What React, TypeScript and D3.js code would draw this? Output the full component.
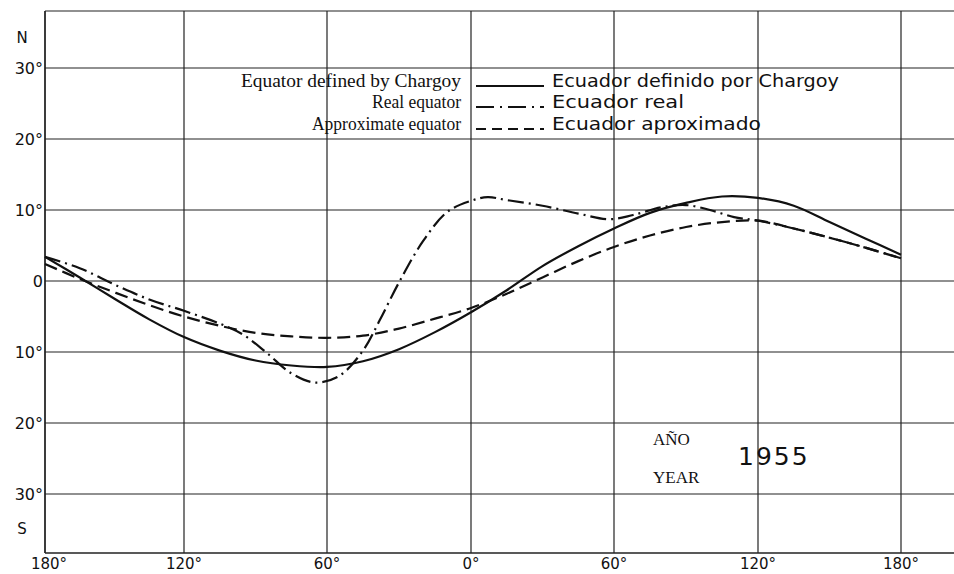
import React, { useEffect, useRef } from 'react';
import * as d3 from 'd3';

// longitude ticks (west negative) and latitude ticks (south negative)
const lonTicks = [-180, -120, -60, 0, 60, 120, 180];
const lonLabels = ['180°', '120°', '60°', '0°', '60°', '120°', '180°'];
const latTicks = [30, 20, 10, 0, -10, -20, -30];
const latLabels = ['30°', '20°', '10°', '0', '10°', '20°', '30°'];

// Ecuador definido por Chargoy
const chargoyLon = [-180, -165, -150, -135, -120, -105, -90, -75, -60, -45, -30, -15, 0, 15, 30, 45, 60, 75, 90, 105, 120, 135, 150, 165, 180];
const chargoyLat = [3.4, 0.5, -2.5, -5.4, -7.9, -9.8, -11.2, -11.9, -12.1, -11.3, -9.6, -7.2, -4.4, -1.3, 2.1, 4.9, 7.4, 9.6, 11.0, 11.9, 11.7, 10.6, 8.3, 6.0, 3.7];

// Ecuador real
const realLon = [-180, -165, -150, -135, -120, -105, -95, -85, -75, -65, -55, -45, -38, -30, -20, -10, 0, 7, 15, 30, 45, 58, 68, 80, 90, 100, 110, 120, 135, 150, 165, 180];
const realLat = [3.4, 1.8, -0.5, -2.6, -4.2, -6.0, -7.6, -10.2, -13.0, -14.3, -13.4, -9.8, -5.5, -0.2, 5.6, 9.7, 11.3, 11.8, 11.4, 10.6, 9.5, 8.7, 9.3, 10.4, 10.7, 10.0, 9.0, 8.5, 7.4, 6.1, 4.7, 3.2];

// Ecuador aproximado
const approxLon = [-180, -165, -150, -135, -120, -105, -90, -75, -60, -45, -30, -15, 0, 15, 30, 45, 60, 75, 90, 105, 120, 135, 150, 165, 180];
const approxLat = [2.4, 0.3, -1.6, -3.4, -5.0, -6.3, -7.3, -7.8, -8.0, -7.7, -6.7, -5.3, -3.8, -1.8, 0.5, 2.8, 4.8, 6.4, 7.6, 8.3, 8.5, 7.4, 6.1, 4.7, 3.2];

const legendEn = ['Equator defined by Chargoy', 'Real equator', 'Approximate equator'];
const legendEs = ['Ecuador definido por Chargoy', 'Ecuador real', 'Ecuador aproximado'];

const SANS = 'DejaVu Sans, sans-serif';
const SERIF = 'Liberation Serif, serif';

export default function App() {
  const ref = useRef<SVGSVGElement>(null);

  useEffect(() => {
    const width = 954;
    const height = 574;
    const svg = d3.select(ref.current);
    svg.selectAll('*').remove();
    svg.attr('width', width).attr('height', height);

    // the scanned grid is slightly uneven, so map each meridian to where it was drawn
    const x = d3.scaleLinear().domain(lonTicks).range([45, 184, 327, 471, 614, 758, 901]);
    const y = d3.scaleLinear().domain([-30, 30]).range([494, 68]);
    const top = 11;
    const bottom = 553;
    const left = 45;
    const right = width;

    const ink = '#111';
    const grid = svg.append('g').attr('stroke', '#222').attr('stroke-width', 1.2);

    grid
      .selectAll('line.v')
      .data(lonTicks)
      .enter()
      .append('line')
      .attr('class', 'v')
      .attr('x1', (d) => x(d))
      .attr('x2', (d) => x(d))
      .attr('y1', top)
      .attr('y2', bottom);

    grid
      .selectAll('line.h')
      .data(latTicks)
      .enter()
      .append('line')
      .attr('class', 'h')
      .attr('x1', left)
      .attr('x2', right)
      .attr('y1', (d) => y(d))
      .attr('y2', (d) => y(d));

    // frame
    grid.append('line').attr('x1', left).attr('x2', right).attr('y1', top).attr('y2', top);
    grid.append('line').attr('x1', left).attr('x2', right).attr('y1', bottom).attr('y2', bottom).attr('stroke-width', 1.6);
    grid.append('line').attr('x1', left).attr('x2', left).attr('y1', top).attr('y2', bottom).attr('stroke-width', 1.4);

    // tick labels
    svg
      .append('g')
      .selectAll('text')
      .data(latTicks)
      .enter()
      .append('text')
      .attr('x', 43)
      .attr('y', (d) => y(d) + 6)
      .attr('text-anchor', 'end')
      .attr('font-family', SANS)
      .attr('font-size', 16)
      .attr('fill', ink)
      .text((d, i) => latLabels[i]);

    svg
      .append('g')
      .selectAll('text')
      .data(lonTicks)
      .enter()
      .append('text')
      .attr('x', (d) => x(d) + (d === -180 ? 4 : 0))
      .attr('y', 569)
      .attr('text-anchor', 'middle')
      .attr('font-family', SANS)
      .attr('font-size', 15)
      .attr('fill', ink)
      .text((d, i) => lonLabels[i]);

    svg.append('text').attr('x', 22).attr('y', 43).attr('text-anchor', 'middle')
      .attr('font-family', SANS).attr('font-size', 15).attr('fill', ink).text('N');
    svg.append('text').attr('x', 22).attr('y', 534).attr('text-anchor', 'middle')
      .attr('font-family', SANS).attr('font-size', 15).attr('fill', ink).text('S');

    // curves
    const line = d3
      .line<[number, number]>()
      .x((d) => x(d[0]))
      .y((d) => y(d[1]))
      .curve(d3.curveCatmullRom.alpha(0.5));

    const series = [
      { lon: approxLon, lat: approxLat, dash: '13,6', w: 2.2 },
      { lon: realLon, lat: realLat, dash: '16,5,2,5', w: 2.2 },
      { lon: chargoyLon, lat: chargoyLat, dash: null, w: 2.2 },
    ];

    series.forEach((s) => {
      const pts = s.lon.map((v, i) => [v, s.lat[i]] as [number, number]);
      svg
        .append('path')
        .attr('d', line(pts))
        .attr('fill', 'none')
        .attr('stroke', ink)
        .attr('stroke-width', s.w)
        .attr('stroke-dasharray', s.dash);
    });

    // legend
    const rowY = [87, 108, 130];
    const enLen = [220, 89, 149];
    const esLen = [287, 132, 209];
    const dashes = [null, '18,6,2,6', '10,6'];
    const lg = svg.append('g');
    rowY.forEach((ry, i) => {
      lg.append('text')
        .attr('x', 461)
        .attr('y', ry)
        .attr('text-anchor', 'end')
        .attr('font-family', SERIF)
        .attr('font-size', 18)
        .attr('fill', ink)
        .attr('textLength', enLen[i])
        .attr('lengthAdjust', 'spacingAndGlyphs')
        .text(legendEn[i]);
      lg.append('line')
        .attr('x1', 476)
        .attr('x2', 544)
        .attr('y1', ry - 1)
        .attr('y2', ry - 1)
        .attr('stroke', ink)
        .attr('stroke-width', 1.8)
        .attr('stroke-dasharray', dashes[i]);
      lg.append('text')
        .attr('x', 552)
        .attr('y', ry)
        .attr('font-family', SANS)
        .attr('font-size', 18)
        .attr('fill', ink)
        .attr('textLength', esLen[i])
        .attr('lengthAdjust', 'spacingAndGlyphs')
        .text(legendEs[i]);
    });

    // year box
    svg.append('text').attr('x', 653).attr('y', 445).attr('font-family', SERIF)
      .attr('font-size', 17).attr('fill', ink).text('AÑO');
    svg.append('text').attr('x', 653).attr('y', 483).attr('font-family', SERIF)
      .attr('font-size', 17).attr('fill', ink).text('YEAR');
    svg.append('text').attr('x', 738).attr('y', 465).attr('font-family', SANS)
      .attr('font-size', 25).attr('fill', ink).attr('letter-spacing', 2).text('1955');
  }, []);

  return (
    <div style={{ position: 'absolute', left: 0, top: 0 }}>
      <svg ref={ref} style={{ display: 'block', background: '#fff' }}></svg>
    </div>
  );
}
